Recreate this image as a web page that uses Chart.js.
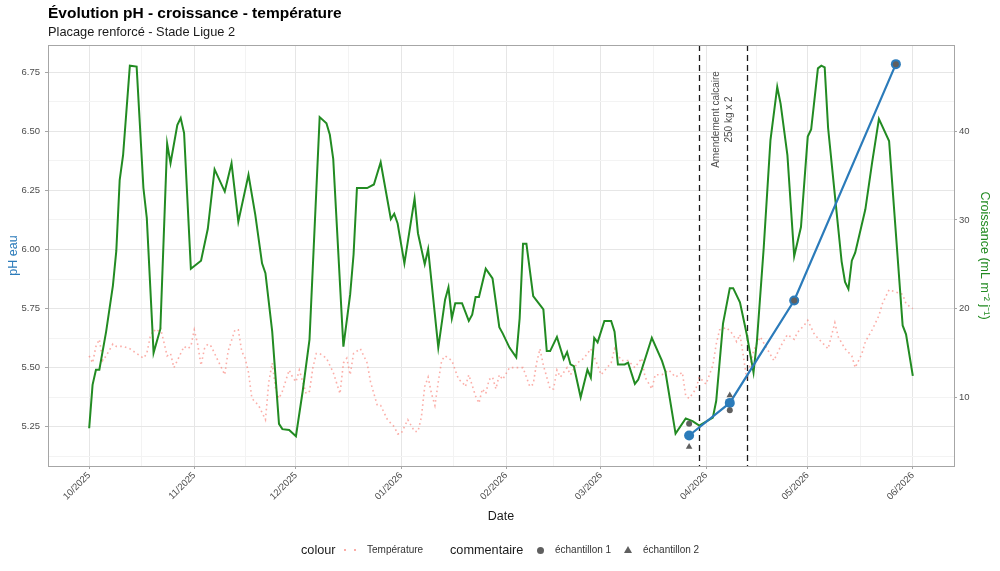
<!DOCTYPE html>
<html>
<head>
<meta charset="utf-8">
<script src="https://cdn.jsdelivr.net/npm/chart.js@4.4.1/dist/chart.umd.min.js"></script>
<style>
    body { margin: 0; background: #fff; font-family: "Liberation Sans", Arial, sans-serif; }
    #wrap { position: relative; width: 1000px; height: 571px; overflow: hidden; }
    #graphCanvas { position: absolute; left: 0; top: 0; }
    .title { position: absolute; left: 48px; top: 3px; font-size: 15.5px; font-weight: bold; color: #000; line-height: 20px; white-space: nowrap; }
    .subtitle { position: absolute; left: 48px; top: 24px; font-size: 12.8px; color: #1a1a1a; line-height: 16px; white-space: nowrap; }
    .leg { position: absolute; top: 542px; line-height: 16px; white-space: nowrap; color: #1a1a1a; }
    .legTitle { font-size: 12.7px; }
    .legText { font-size: 10px; color: #333; }
    .dot { position: absolute; width: 2px; height: 2px; background: rgba(248,118,109,0.6); top: 549px; }
    .circle { position: absolute; width: 7px; height: 7px; border-radius: 50%; background: #5f5f5f; top: 546.5px; left: 536.5px; }
    .tri { position: absolute; width: 0; height: 0; border-left: 4px solid transparent; border-right: 4px solid transparent; border-bottom: 7px solid #5f5f5f; top: 546px; left: 624px; }
</style>
</head>
<body>
<div id="wrap">
    <canvas id="graphCanvas" width="1000" height="571"></canvas>
    <div class="title">Évolution pH - croissance - température</div>
    <div class="subtitle">Placage renforcé - Stade Ligue 2</div>
    <div class="leg legTitle" style="left:301px">colour</div>
    <div class="dot" style="left:344px"></div>
    <div class="dot" style="left:354px"></div>
    <div class="leg legText" style="left:367px">Température</div>
    <div class="leg legTitle" style="left:450px">commentaire</div>
    <div class="circle"></div>
    <div class="leg legText" style="left:555px">échantillon 1</div>
    <div class="tri"></div>
    <div class="leg legText" style="left:643px">échantillon 2</div>
</div>
<script>
// days counted from 01/10/2025
var tempDays = [0, 1, 2, 3, 4, 5, 7, 8, 10, 12, 14, 16, 17, 18, 19, 20, 21, 22, 23, 24, 25, 26, 28, 29, 30, 31, 32, 33, 34, 35, 36, 38, 39, 40, 41, 43, 44, 45, 46, 47, 48, 50, 52, 53, 54, 55, 56, 57, 59, 60, 61, 62, 64, 65, 66, 67, 68, 70, 72, 74, 75, 76, 77, 78, 80, 82, 83, 85, 86, 88, 90, 91, 92, 94, 96, 97, 98, 99, 100, 101, 102, 103, 104, 105, 107, 109, 110, 111, 112, 114, 115, 116, 117, 118, 119, 120, 121, 122, 124, 127, 128, 130, 131, 132, 133, 134, 136, 137, 138, 139, 141, 142, 144, 146, 148, 150, 151, 154, 155, 157, 159, 161, 163, 164, 166, 167, 169, 171, 173, 175, 176, 177, 179, 180, 182, 183, 184, 185, 186, 188, 190, 191, 192, 193, 194, 196, 198, 200, 202, 204, 206, 208, 209, 211, 212, 214, 216, 218, 220, 221, 223, 225, 226, 228, 229, 231, 233, 234, 236, 238, 240, 241, 243];
var tempValues = [5.55, 5.52, 5.59, 5.62, 5.53, 5.55, 5.60, 5.59, 5.59, 5.58, 5.56, 5.54, 5.56, 5.63, 5.66, 5.65, 5.67, 5.61, 5.55, 5.56, 5.50, 5.53, 5.59, 5.58, 5.59, 5.66, 5.60, 5.51, 5.58, 5.60, 5.59, 5.53, 5.50, 5.47, 5.57, 5.66, 5.66, 5.57, 5.54, 5.48, 5.37, 5.34, 5.28, 5.44, 5.52, 5.41, 5.37, 5.40, 5.49, 5.46, 5.44, 5.49, 5.39, 5.40, 5.50, 5.56, 5.56, 5.54, 5.48, 5.39, 5.52, 5.54, 5.47, 5.56, 5.58, 5.52, 5.44, 5.34, 5.34, 5.28, 5.25, 5.22, 5.22, 5.28, 5.23, 5.23, 5.29, 5.42, 5.46, 5.39, 5.34, 5.44, 5.53, 5.55, 5.53, 5.45, 5.44, 5.42, 5.47, 5.38, 5.35, 5.41, 5.39, 5.45, 5.46, 5.41, 5.47, 5.45, 5.50, 5.50, 5.50, 5.42, 5.43, 5.52, 5.58, 5.51, 5.41, 5.41, 5.49, 5.46, 5.50, 5.47, 5.52, 5.54, 5.58, 5.51, 5.47, 5.52, 5.58, 5.53, 5.53, 5.50, 5.54, 5.46, 5.41, 5.47, 5.47, 5.49, 5.46, 5.48, 5.38, 5.37, 5.41, 5.46, 5.43, 5.47, 5.51, 5.60, 5.66, 5.67, 5.64, 5.61, 5.64, 5.55, 5.45, 5.57, 5.63, 5.58, 5.53, 5.59, 5.64, 5.62, 5.65, 5.68, 5.70, 5.64, 5.61, 5.58, 5.69, 5.63, 5.58, 5.55, 5.50, 5.56, 5.61, 5.66, 5.72, 5.77, 5.83, 5.82, 5.81, 5.77, 5.75];

var growthDays = [0, 1, 2, 3, 5, 7, 8, 9, 10, 12, 14, 16, 17, 19, 21, 23, 24, 26, 27, 28, 30, 33, 35, 37, 40, 42, 44, 47, 49, 51, 52, 54, 56, 57, 59, 61, 63, 65, 68, 70, 71, 72, 75, 77, 78, 79, 82, 84, 86, 89, 90, 91, 93, 96, 97, 99, 100, 103, 105, 106, 107, 108, 110, 112, 113, 114, 115, 117, 119, 121, 122, 124, 126, 127, 128, 129, 131, 134, 135, 136, 138, 140, 141, 142, 143, 145, 147, 148, 149, 150, 152, 154, 155, 156, 158, 159, 161, 162, 163, 166, 169, 170, 173, 176, 178, 180, 184, 185, 187, 189, 190, 192, 194, 196, 197, 199, 201, 203, 204, 206, 208, 210, 212, 213, 215, 216, 217, 218, 220, 222, 223, 224, 225, 226, 229, 231, 233, 236, 240, 241, 243];
var growthValues = [6.5, 11.4, 13.1, 13.1, 17.4, 22.6, 26.5, 34.5, 37.3, 47.4, 47.3, 33.6, 30.2, 15.0, 17.7, 38.6, 36.4, 40.7, 41.5, 39.8, 24.5, 25.4, 29.0, 35.7, 33.2, 36.4, 29.8, 35.1, 30.6, 25.1, 24.0, 17.4, 7.0, 6.4, 6.3, 5.6, 10.7, 16.5, 41.6, 40.9, 39.6, 36.9, 15.7, 21.6, 26.1, 33.6, 33.6, 34.0, 36.5, 30.1, 30.7, 29.6, 25.1, 32.4, 28.5, 25.0, 26.7, 15.6, 21.0, 22.4, 18.9, 20.6, 20.6, 18.6, 19.3, 21.3, 21.3, 24.5, 23.4, 17.9, 17.2, 15.6, 14.5, 18.9, 27.3, 27.3, 21.4, 19.9, 15.2, 15.2, 16.8, 14.3, 15.1, 13.7, 13.5, 10.0, 13.1, 12.2, 16.7, 16.2, 18.6, 18.6, 17.4, 13.7, 13.7, 13.9, 11.5, 12.0, 13.1, 16.7, 14.1, 12.9, 5.9, 7.6, 7.3, 6.8, 7.7, 9.6, 18.3, 22.3, 22.3, 20.7, 17.1, 12.8, 16.3, 26.8, 39.0, 45.0, 43.1, 37.3, 25.9, 29.2, 39.4, 40.2, 47.1, 47.4, 47.2, 40.4, 32.8, 25.3, 23.0, 22.2, 25.4, 26.3, 31.2, 36.5, 41.4, 38.9, 18.1, 17.1, 12.4];

var phDays = [177, 189, 208, 238];
var phValues = [5.213, 5.351, 5.784, 6.784];
var sample1Days = [177, 189, 208, 238];
var sample1Values = [5.263, 5.320, 5.784, 6.784];
var sample2Days = [177, 189];
var sample2Values = [5.165, 5.383];

var monthDays = [0, 31, 61, 92, 123, 151, 182, 212, 243];
var monthLabels = ['10/2025', '11/2025', '12/2025', '01/2026', '02/2026', '03/2026', '04/2026', '05/2026', '06/2026'];
var phTicks = [5.25, 5.5, 5.75, 6.0, 6.25, 6.5, 6.75];
var growthTicks = [10, 20, 30, 40];
var amendDays = [180, 194];
var amendText = ['Amendement calcaire', '250 kg x 2'];

// secondary axis: pH = 5 + croissance * 0.0375
var secOffset = 5;
var secFactor = 0.0375;
var phMin = 5.084;
var phMax = 6.865;

function pairs(xs, ys) {
    var out = [];
    for (var i = 0; i < xs.length; i++) {
        out.push({x: xs[i], y: ys[i]});
    }
    return out;
}

function withMinor(major) {
    var out = [];
    for (var i = 0; i < major.length; i++) {
        out.push(major[i]);
        if (i < major.length - 1) out.push((major[i] + major[i + 1]) / 2);
    }
    return out;
}

var xTicks = withMinor(monthDays);
// one more minor break under 5.25, still inside the panel
var yTicks = [phTicks[0] - (phTicks[1] - phTicks[0]) / 2].concat(withMinor(phTicks));
var gridMajor = '#e6e6e6';
var gridMinor = '#f3f3f3';
var tickGrey = '#a6a6a6';
var textGrey = '#4d4d4d';
var blue = '#2b7bba';
var green = '#228b22';

Chart.defaults.font.family = '"Liberation Sans", Arial, sans-serif';

var panelPlugin = {
    id: 'panel',
    beforeDatasetsDraw: function(chart) {
        var ctx = chart.ctx;
        var a = chart.chartArea;
        var sx = chart.scales.x;
        var sy = chart.scales.y;
        ctx.save();
        ctx.strokeStyle = '#1a1a1a';
        ctx.lineWidth = 1.3;
        ctx.setLineDash([6, 4]);
        for (var i = 0; i < amendDays.length; i++) {
            var px = Math.round(sx.getPixelForValue(amendDays[i])) + 0.5;
            ctx.beginPath();
            ctx.moveTo(px, a.top);
            ctx.lineTo(px, a.bottom);
            ctx.stroke();
        }
        ctx.setLineDash([]);
        var mx = sx.getPixelForValue((amendDays[0] + amendDays[1]) / 2);
        var my = sy.getPixelForValue(6.55);
        ctx.translate(mx, my);
        ctx.rotate(-Math.PI / 2);
        ctx.fillStyle = textGrey;
        ctx.font = '10px "Liberation Sans", Arial, sans-serif';
        ctx.textAlign = 'center';
        ctx.textBaseline = 'middle';
        ctx.fillText(amendText[0], 0, -6.6);
        ctx.fillText(amendText[1], 0, 6.6);
        ctx.restore();
    },
    afterDraw: function(chart) {
        var ctx = chart.ctx;
        var a = chart.chartArea;
        ctx.save();
        ctx.strokeStyle = tickGrey;
        ctx.lineWidth = 1;
        ctx.strokeRect(Math.round(a.left) + 0.5, Math.round(a.top) + 0.5, Math.round(a.right - a.left), Math.round(a.bottom - a.top));
        ctx.restore();
    }
};

var chartdata = {
    datasets: [{
        label: 'Température',
        data: pairs(tempDays, tempValues),
        yAxisID: 'y',
        borderColor: 'rgba(248,118,109,0.6)',
        borderWidth: 1.6,
        borderDash: [1.6, 3.2],
        pointRadius: 0,
        fill: false,
        order: 5
    }, {
        label: 'Croissance',
        data: pairs(growthDays, growthValues),
        yAxisID: 'y2',
        borderColor: green,
        borderWidth: 2,
        pointRadius: 0,
        fill: false,
        order: 4
    }, {
        label: 'pH eau',
        data: pairs(phDays, phValues),
        yAxisID: 'y',
        borderColor: blue,
        backgroundColor: blue,
        borderWidth: 2.2,
        pointRadius: 5,
        pointBorderWidth: 0,
        fill: false,
        order: 3
    }, {
        label: 'échantillon 1',
        data: pairs(sample1Days, sample1Values),
        yAxisID: 'y',
        showLine: false,
        pointStyle: 'circle',
        pointRadius: 3,
        pointBorderWidth: 0,
        backgroundColor: '#5f5f5f',
        borderColor: '#5f5f5f',
        order: 2
    }, {
        label: 'échantillon 2',
        data: pairs(sample2Days, sample2Values),
        yAxisID: 'y',
        showLine: false,
        pointStyle: 'triangle',
        pointRadius: 3.8,
        pointBorderWidth: 0,
        backgroundColor: '#5f5f5f',
        borderColor: '#5f5f5f',
        order: 1
    }]
};

function isMajor(list, v) {
    for (var i = 0; i < list.length; i++) {
        if (Math.abs(list[i] - v) < 1e-6) return true;
    }
    return false;
}

var graphTarget = document.getElementById('graphCanvas');

var lineGraph = new Chart(graphTarget, {
    type: 'line',
    data: chartdata,
    plugins: [panelPlugin],
    options: {
        responsive: false,
        animation: false,
        devicePixelRatio: 1,
        layout: { padding: { top: 45, bottom: 45, left: 0, right: 0 } },
        plugins: { legend: { display: false }, title: { display: false }, tooltip: { enabled: false } },
        scales: {
            x: {
                type: 'linear',
                min: -12.15,
                max: 255.15,
                afterBuildTicks: function(scale) {
                    scale.ticks = xTicks.map(function(v) { return {value: v}; });
                },
                afterFit: function(scale) { scale.height = 60; },
                border: { display: false },
                grid: {
                    color: function(c) { return isMajor(monthDays, c.tick.value) ? gridMajor : gridMinor; },
                    tickColor: function(c) { return isMajor(monthDays, c.tick.value) ? tickGrey : 'rgba(0,0,0,0)'; },
                    tickLength: 3,
                    lineWidth: 1
                },
                ticks: {
                    autoSkip: false,
                    minRotation: 45,
                    maxRotation: 45,
                    padding: 1,
                    color: textGrey,
                    font: { size: 9.5 },
                    callback: function(v) {
                        var i = monthDays.indexOf(v);
                        return i >= 0 ? monthLabels[i] : '';
                    }
                },
                title: { display: true, text: 'Date', color: '#1a1a1a', font: { size: 12.5 }, padding: { top: 2, bottom: 2 } }
            },
            y: {
                position: 'left',
                min: phMin,
                max: phMax,
                afterBuildTicks: function(scale) {
                    scale.ticks = yTicks.map(function(v) { return {value: v}; });
                },
                afterFit: function(scale) { scale.width = 48; },
                border: { display: false },
                grid: {
                    color: function(c) { return isMajor(phTicks, c.tick.value) ? gridMajor : gridMinor; },
                    tickColor: function(c) { return isMajor(phTicks, c.tick.value) ? tickGrey : 'rgba(0,0,0,0)'; },
                    tickLength: 3,
                    lineWidth: 1
                },
                ticks: {
                    padding: 5,
                    color: textGrey,
                    font: { size: 9.5 },
                    callback: function(v) { return isMajor(phTicks, v) ? v.toFixed(2) : ''; }
                },
                title: { display: true, text: 'pH eau', color: blue, font: { size: 12.5 }, padding: { top: 6, bottom: 0 } }
            },
            y2: {
                position: 'right',
                min: (phMin - secOffset) / secFactor,
                max: (phMax - secOffset) / secFactor,
                afterBuildTicks: function(scale) {
                    scale.ticks = growthTicks.map(function(v) { return {value: v}; });
                },
                afterFit: function(scale) { scale.width = 46; },
                border: { display: false },
                grid: { drawOnChartArea: false, tickColor: tickGrey, tickLength: 3 },
                ticks: { padding: 2, color: textGrey, font: { size: 9.5 } },
                title: { display: true, text: 'Croissance (mL m\u207B\u00B2 j\u207B\u00B9)', color: green, font: { size: 12.5 }, padding: { top: 8, bottom: 0 } }
            }
        }
    }
});
</script>
</body>
</html>
